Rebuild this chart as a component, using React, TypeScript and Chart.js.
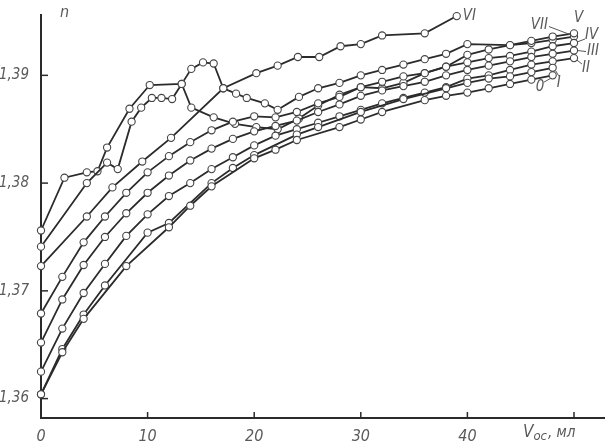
import React, { useEffect, useRef } from "react";
import { Chart, registerables } from "chart.js";

Chart.register(...registerables);

// ---- data ----
const X_TICKS = [0, 10, 20, 30, 40, 50];
const Y_TICKS = [1.36, 1.37, 1.38, 1.39];

const V_0 = [0, 2, 4, 8, 12, 14, 16, 20, 22, 24, 28, 30, 32, 36, 38, 40, 42, 44, 46, 48];
const N_0 = [1.3604, 1.3643, 1.3674, 1.3723, 1.3759, 1.3779, 1.3797, 1.3823, 1.3831, 1.384, 1.3852, 1.3859, 1.3866, 1.3877, 1.3881, 1.3884, 1.3888, 1.3892, 1.3896, 1.39];

const V_I = [0, 2, 4, 6, 10, 12, 16, 18, 20, 24, 26, 30, 34, 38, 40, 42, 44, 46, 48];
const N_I = [1.3604, 1.3646, 1.3678, 1.3705, 1.3754, 1.3763, 1.38, 1.3814, 1.3826, 1.3845, 1.3852, 1.3866, 1.3878, 1.3888, 1.3893, 1.3897, 1.3899, 1.3903, 1.3907];

const V_II = [0, 2, 4, 6, 8, 10, 12, 14, 16, 18, 20, 22, 24, 26, 28, 30, 32, 34, 36, 38, 40, 42, 44, 46, 48, 50];
const N_II = [1.3625, 1.3665, 1.3698, 1.3725, 1.3751, 1.3771, 1.3788, 1.38, 1.3813, 1.3824, 1.3835, 1.3844, 1.385, 1.3856, 1.3862, 1.3868, 1.3874, 1.3879, 1.3884, 1.3889, 1.3897, 1.39, 1.3905, 1.391, 1.3913, 1.3916];

const V_III = [0, 2, 4, 6, 8, 10, 12, 14, 16, 18, 20, 22, 24, 26, 28, 30, 32, 34, 36, 38, 40, 42, 44, 46, 48, 50];
const N_III = [1.3652, 1.3692, 1.3724, 1.375, 1.3772, 1.3791, 1.3807, 1.3821, 1.3832, 1.3841, 1.3848, 1.3853, 1.3858, 1.3866, 1.3873, 1.3881, 1.3886, 1.389, 1.3894, 1.39, 1.3905, 1.3909, 1.3913, 1.3917, 1.392, 1.3923];

const V_IV = [0, 2, 4, 6, 8, 10, 12, 14, 16, 18, 20, 22, 24, 26, 28, 30, 32, 34, 36, 38, 40, 42, 44, 46, 48, 50];
const N_IV = [1.3679, 1.3713, 1.3745, 1.3769, 1.3791, 1.381, 1.3825, 1.3838, 1.3849, 1.3857, 1.3862, 1.3861, 1.3866, 1.3874, 1.388, 1.3889, 1.3894, 1.3899, 1.3902, 1.3908, 1.3912, 1.3916, 1.3918, 1.3922, 1.3927, 1.393];

const V_V = [0, 4.3, 6.2, 7.2, 8.5, 9.4, 10.4, 11.3, 12.3, 13.2, 14.1, 16.2, 18.2, 20.2, 22.2, 24.2, 26, 28, 30, 32, 34, 36, 38, 40, 42, 44, 46, 48, 50];
const N_V = [1.3741, 1.38, 1.3819, 1.3813, 1.3857, 1.387, 1.3879, 1.3879, 1.3878, 1.3892, 1.387, 1.3861, 1.3855, 1.3852, 1.385, 1.386, 1.3872, 1.3882, 1.3889, 1.3888, 1.3893, 1.3902, 1.3908, 1.3919, 1.3924, 1.3928, 1.3932, 1.3936, 1.3939];

const V_VI = [0, 4.3, 6.7, 9.5, 12.2, 17.1, 20.2, 22.2, 24.1, 26.1, 28.1, 30, 32, 36, 39];
const N_VI = [1.3723, 1.3769, 1.3796, 1.382, 1.3842, 1.3888, 1.3902, 1.3909, 1.3917, 1.3917, 1.3927, 1.3929, 1.3937, 1.3939, 1.3955];

const V_VII = [0, 2.2, 4.3, 5.3, 6.2, 8.3, 10.2, 13.2, 14.1, 15.2, 16.2, 17.1, 18.3, 19.3, 21, 22.2, 24.2, 26, 28, 30, 32, 34, 36, 38, 40, 44, 46, 48, 50];
const N_VII = [1.3756, 1.3805, 1.381, 1.3811, 1.3833, 1.3869, 1.3891, 1.3892, 1.3906, 1.3912, 1.3911, 1.3888, 1.3883, 1.3879, 1.3874, 1.3868, 1.388, 1.3888, 1.3893, 1.39, 1.3905, 1.391, 1.3915, 1.392, 1.3929, 1.3928, 1.393, 1.3933, 1.3936];

const SERIES_NAMES = ["0", "I", "II", "III", "IV", "V", "VI", "VII"];
const SERIES_V = [V_0, V_I, V_II, V_III, V_IV, V_V, V_VI, V_VII];
const SERIES_N = [N_0, N_I, N_II, N_III, N_IV, N_V, N_VI, N_VII];

// label placement styles (pixel offsets from the series' last point)
const LABEL_STYLE: Record<string, { dx: number; dy: number; align: CanvasTextAlign; lead?: number[] }> = {
  "0": { dx: -17, dy: 12, align: "left", lead: [-2, 3, -9, 7] },
  I: { dx: 4, dy: 15, align: "left", lead: [3, 3, 6, 8] },
  II: { dx: 8, dy: 10, align: "left", lead: [3, 2, 8, 6] },
  III: { dx: 13, dy: 1, align: "left", lead: [4, 0, 12, 1] },
  IV: { dx: 11, dy: -8, align: "left", lead: [3, -1, 11, -4] },
  V: { dx: 0, dy: -15, align: "left" },
  VI: { dx: 6, dy: 0, align: "left" },
  VII: { dx: -26, dy: -11, align: "right", lead: [-25, -10, -4, -2] },
};

const INK = "#2b2b2b";
const TEXT = "#5a5a5a";
const FONT_FAMILY = '"Liberation Sans Narrow", "DejaVu Sans Condensed", "DejaVu Sans", sans-serif';

const decorPlugin = {
  id: "decor",
  afterDatasetsDraw(chart: any) {
    const { ctx, chartArea, scales } = chart;
    const xs = scales.x;
    const ys = scales.y;
    ctx.save();
    // inward tick marks
    ctx.strokeStyle = INK;
    ctx.lineWidth = 1.5;
    Y_TICKS.forEach((t) => {
      const y = ys.getPixelForValue(t);
      ctx.beginPath();
      ctx.moveTo(chartArea.left, y);
      ctx.lineTo(chartArea.left + 7, y);
      ctx.stroke();
    });
    X_TICKS.forEach((t) => {
      const x = xs.getPixelForValue(t);
      ctx.beginPath();
      ctx.moveTo(x, chartArea.bottom);
      ctx.lineTo(x, chartArea.bottom - 6);
      ctx.stroke();
    });
    // series labels
    ctx.fillStyle = TEXT;
    ctx.strokeStyle = "#555";
    ctx.lineWidth = 1;
    ctx.font = `italic 15px ${FONT_FAMILY}`;
    ctx.textBaseline = "middle";
    SERIES_NAMES.forEach((name, i) => {
      const vArr = SERIES_V[i];
      const nArr = SERIES_N[i];
      const px = xs.getPixelForValue(vArr[vArr.length - 1]);
      const py = ys.getPixelForValue(nArr[nArr.length - 1]);
      const st = LABEL_STYLE[name];
      ctx.textAlign = st.align;
      ctx.fillText(name, px + st.dx, py + st.dy);
      if (st.lead) {
        ctx.beginPath();
        ctx.moveTo(px + st.lead[0], py + st.lead[1]);
        ctx.lineTo(px + st.lead[2], py + st.lead[3]);
        ctx.stroke();
      }
    });
    // axis titles
    ctx.textAlign = "left";
    ctx.textBaseline = "alphabetic";
    ctx.font = `italic 16px ${FONT_FAMILY}`;
    ctx.fillText("n", chartArea.left + 19, chartArea.top + 2);
    const bx = xs.getPixelForValue(50) - 51;
    const by = chartArea.bottom + 19;
    ctx.font = `italic 17px ${FONT_FAMILY}`;
    ctx.fillText("V", bx, by);
    let w = ctx.measureText("V").width;
    ctx.font = `italic 13px ${FONT_FAMILY}`;
    ctx.fillText("ос", bx + w, by + 3);
    w += ctx.measureText("ос").width + 1;
    ctx.font = `italic 15px ${FONT_FAMILY}`;
    ctx.fillText(", мл", bx + w, by);
    ctx.restore();
  },
};

export default function App() {
  const ref = useRef<HTMLCanvasElement | null>(null);

  useEffect(() => {
    document.body.style.margin = "0";
    document.body.style.background = "#ffffff";
    const canvas = ref.current!;
    const datasets = SERIES_NAMES.map((name, i) => ({
      label: name,
      data: SERIES_V[i].map((v, k) => ({ x: v, y: SERIES_N[i][k] })),
      showLine: true,
      borderColor: INK,
      borderWidth: 1.8,
      pointRadius: 3.6,
      pointBackgroundColor: "#ffffff",
      pointBorderColor: "#444",
      pointBorderWidth: 1.1,
      tension: 0,
      clip: false as any,
    }));
    const chart = new Chart(canvas, {
      type: "scatter",
      data: { datasets },
      options: {
        animation: false,
        responsive: false,
        layout: { padding: { top: 15, right: 0, left: 0, bottom: 0 } },
        plugins: { legend: { display: false }, tooltip: { enabled: false } },
        scales: {
          x: {
            type: "linear",
            min: 0,
            max: 52.9,
            grid: { display: false },
            border: { display: true, color: INK, width: 2 },
            afterBuildTicks: (s: any) => {
              s.ticks = X_TICKS.map((v) => ({ value: v }));
            },
            afterFit: (s: any) => {
              s.height = 24;
            },
            ticks: {
              color: TEXT,
              padding: 1,
              maxRotation: 0,
              font: { family: FONT_FAMILY, size: 16, style: "italic" },
              callback: (v: any) => (v === 50 ? "" : String(v)),
            },
          },
          y: {
            type: "linear",
            min: 1.3582,
            max: 1.3956,
            grid: { display: false },
            border: { display: true, color: INK, width: 2 },
            afterBuildTicks: (s: any) => {
              s.ticks = Y_TICKS.map((v) => ({ value: v }));
            },
            afterFit: (s: any) => {
              s.width = 41;
            },
            ticks: {
              color: TEXT,
              padding: 4,
              font: { family: FONT_FAMILY, size: 15, style: "italic" },
              callback: (v: any) => Number(v).toFixed(2).replace(".", ","),
            },
          },
        },
      },
      plugins: [decorPlugin],
    });
    return () => chart.destroy();
  }, []);

  return <canvas ref={ref} width={610} height={442} style={{ display: "block" }} />;
}
